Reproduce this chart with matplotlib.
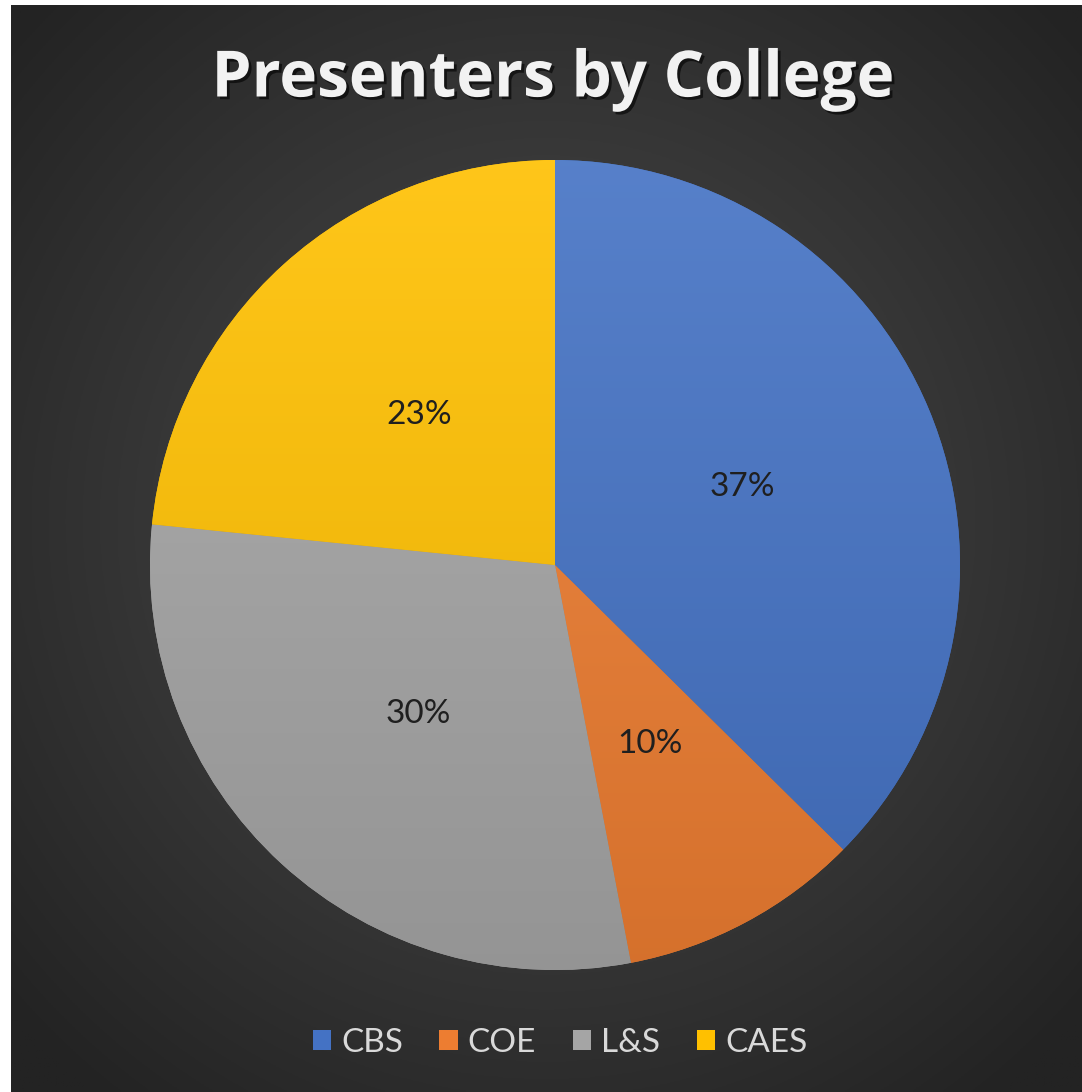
import numpy as np
import matplotlib.pyplot as plt
import matplotlib.patheffects as pe
from matplotlib.colors import to_rgb
from matplotlib.patches import Patch

# data (shares; labels show the rounded values)
colleges = ['CBS', 'COE', 'L&S', 'CAES']
shares = [37.4, 9.6, 29.6, 23.4]
colors = ['#4472C4', '#ED7D31', '#A5A5A5', '#FFC000']

plt.rcParams['font.family'] = ['Lato', 'DejaVu Sans']

W, H = 1082, 1092
fig = plt.figure(figsize=(W / 100, H / 100), dpi=100, facecolor='white')

# dark background with a soft radial glow
bg = fig.add_axes([11 / W, 0, 1 - 11 / W, 1 - 5 / H])
yy, xx = np.mgrid[-1:1:400j, -1:1:400j]
r = np.clip(np.sqrt(xx ** 2 + (yy + 0.05) ** 2) / 1.35, 0, 1)
c0 = np.array(to_rgb('#4d4d4d'))
c1 = np.array(to_rgb('#232323'))
bg.imshow(c0 + (c1 - c0) * r[..., None], extent=[0, 1, 0, 1], aspect='auto')
bg.axis('off')

# pie
ax = fig.add_axes([150 / W, 122 / H, 810 / W, 810 / H])
wedges, texts, autotexts = ax.pie(shares, colors=colors, startangle=90,
                                  counterclock=False, autopct='%1.0f%%',
                                  pctdistance=0.5,
                                  textprops=dict(fontsize=24, color='#1f1f1f'))

# slight top-to-bottom shading on each slice
grad = np.linspace(0, 1, 256)[:, None, None]
for w, col in zip(wedges, colors):
    base = np.array(to_rgb(col))
    top = base + (1 - base) * 0.1
    bot = base * 0.9
    im = ax.imshow(top + (bot - top) * grad, extent=[-1, 1, -1, 1],
                   aspect='auto', zorder=2)
    im.set_clip_path(w)
for t in autotexts:
    t.set_zorder(5)
ax.set_xlim(-1, 1)
ax.set_ylim(-1, 1)
ax.axis('off')

# title
fig.text(553 / W, 1 - 80 / H, 'Presenters by College', ha='center', va='center',
         fontsize=46, fontweight='bold', color='#f2f2f2', family='Open Sans',
         path_effects=[pe.SimplePatchShadow(offset=(2, -2), shadow_rgbFace='black', alpha=0.6),
                       pe.Normal()])

# legend
handles = [Patch(facecolor=c, label=l) for c, l in zip(colors, colleges)]
fig.legend(handles=handles, loc='center', ncol=4, frameon=False,
           bbox_to_anchor=(560 / W, 1 - 1043 / H), bbox_transform=fig.transFigure,
           fontsize=24, labelcolor='#d9d9d9', handlelength=0.55, handleheight=0.55,
           handletextpad=0.3, columnspacing=1.1)

fig.savefig('out.png', dpi=100, facecolor='white')
